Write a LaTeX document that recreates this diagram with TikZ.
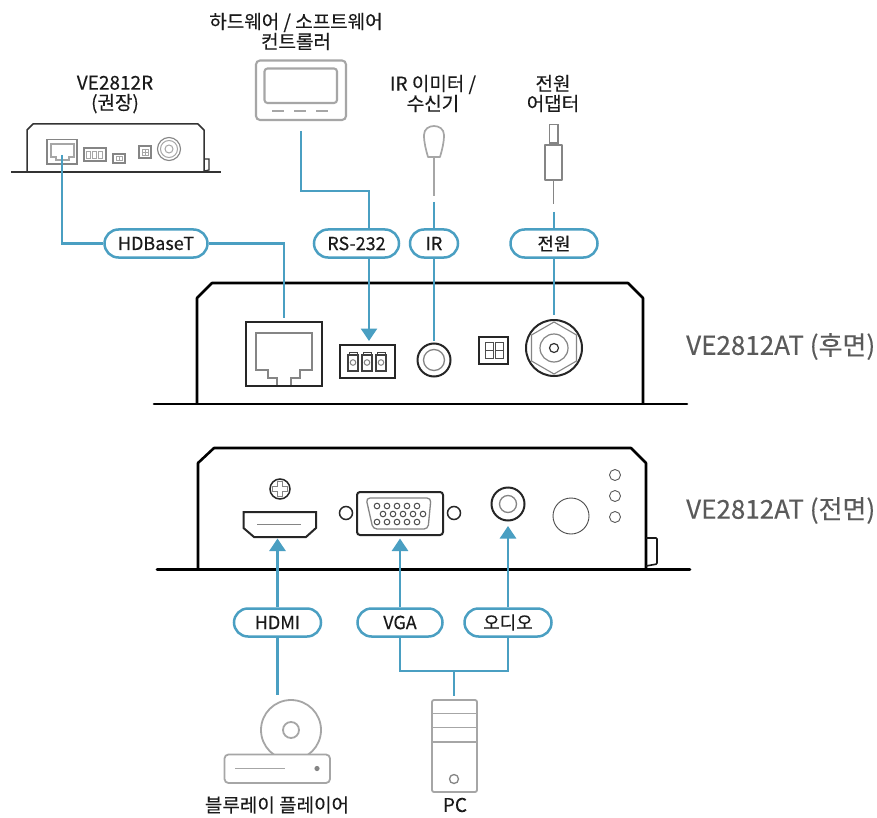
\documentclass[tikz,border=0pt]{standalone}
\usepackage{fontspec}
\setmainfont{Noto Sans CJK KR}[FakeBold=0.25]
\usetikzlibrary{arrows.meta,shapes.misc}
\definecolor{wire}{HTML}{4A9FC2}
\definecolor{pale}{HTML}{A6A6A6}
\definecolor{mid}{HTML}{858585}
\definecolor{ink}{HTML}{1A1A1A}
\definecolor{title}{HTML}{5A5A5A}
\tikzset{
  wireline/.style={draw=wire,line width=2.6pt},
  wirearrow/.style={wireline,-{Triangle[length=12.5pt,width=16pt]}},
  pill/.style={draw=wire,line width=2.5pt,fill=white,rounded rectangle,minimum height=28pt,inner sep=0pt,font=\fontsize{18}{20}\selectfont,text=ink},
  captext/.style={align=center,font=\fontsize{19}{21}\selectfont,text=ink,inner sep=0pt},
  devtitle/.style={font=\fontsize{26}{28}\selectfont,text=title,inner sep=0pt},
  bodyline/.style={draw=black,line width=2.6pt,line join=round},
  part/.style={draw=black!85,line width=2pt},
  grayicon/.style={draw=pale,line width=2.1pt},
  smallpart/.style={draw=mid,line width=1.1pt},
}
\begin{document}
\begin{tikzpicture}[x=1pt,y=-1pt]
\useasboundingbox (0,0) rectangle (877,818);
\fill[white] (0,0) rectangle (877,818);

% ---- captions
\node[captext] (capctl) at (296,31.5) {하드웨어 / 소프트웨어\\[-1pt]컨트롤러};
\node[captext] (capr) at (115,94.5) {VE2812R\\[-1pt](권장)};
\node[captext] (capir) at (433,93.5) {IR 이미터 /\\[-1pt]수신기};
\node[captext] (cappw) at (553,93.5) {전원\\[-1pt]어댑터};
\node[devtitle,anchor=west] (rearT) at (686,346.5) {VE2812AT (후면)};
\node[devtitle,anchor=west] (frontT) at (686,510.5) {VE2812AT (전면)};
\node[captext] (capbd) at (277,805) {블루레이 플레이어};
\node[captext] (cappc) at (455,805) {PC};

% ---- remote unit (small)
\draw[draw=black!80,line width=1.5pt,line join=round] (27,171) -- (27,130) -- (33,124) -- (198,124) -- (204,130) -- (204,171);
\draw[draw=black!80,line width=1.5pt] (11,172) -- (221,172);
\draw[draw=black!80,line width=1.2pt] (204,159) -- (209,159) -- (209,170) -- (204,171);
\draw[smallpart] (47,139.5) rectangle (77,164);
\draw[draw=pale,line width=1.1pt] (51,144) -- (74,144) -- (74,157) -- (69,157) -- (69,160) -- (56,160) -- (56,157) -- (51,157) -- cycle;
\draw[smallpart] (84,148) rectangle (106,161);
\foreach \px in {88,94,100} \draw[draw=pale,line width=.8pt] (\px-2,151) rectangle (\px+2,158);
\draw[smallpart] (113,154) rectangle (125,163);
\draw[draw=pale,line width=.8pt] (116,156.5) rectangle (119,160.5) (119.5,156.5) rectangle (122.5,160.5);
\draw[smallpart] (139,146) rectangle (151,158);
\draw[draw=pale,line width=.8pt] (142,149) rectangle (148,155) (145,149) -- (145,155) (142,152) -- (148,152);
\node[circle,smallpart,minimum size=23pt,inner sep=0pt] (rcoax) at (169,149) {};
\draw[draw=pale,line width=1pt] (169,149) circle (8.5) (169,149) circle (4);
\coordinate (rrj) at (62,155);

% ---- controller
\draw[grayicon,rounded corners=4pt] (256,60.5) rectangle (346,120);
\draw[grayicon,rounded corners=3pt] (264.5,68.5) rectangle (337,103);
\draw[draw=pale,line width=1.6pt] (272,111) -- (284,111) (294,111) -- (306,111) (316,111) -- (328,111);
\coordinate (ctl) at (301,131);

% ---- IR emitter
\draw[draw=pale,line width=1.7pt,line join=round] (428,157) .. controls (426,150) and (424,143) .. (424,135) .. controls (424,129) and (429,126) .. (434,126) .. controls (439,126) and (444,129) .. (444,135) .. controls (444,143) and (442,150) .. (440,157) -- cycle;
\draw[draw=pale,line width=1.7pt] (434,157) -- (434,196);
\coordinate (irtop) at (434,202);

% ---- power plug
\draw[draw=mid,line width=1.7pt] (549.5,124.5) rectangle (558,143);
\draw[draw=mid,line width=1.7pt,line join=round] (545,145) rectangle (562,180);
\draw[draw=mid,line width=1.7pt] (553.5,180) -- (553.5,204);
\coordinate (pwtop) at (554,212);

% ---- rear device
\draw[bodyline] (197,403) -- (197,298) -- (212,283) -- (628,283) -- (643,298) -- (643,403);
\draw[bodyline,line cap=round] (154,404) -- (687,404);
\draw[part] (246,322) rectangle (322,386);
\draw[draw=mid,line width=1.5pt] (277,385) -- (277,378) -- (268,378) -- (268,370) -- (256,370) -- (256,333) -- (312,333) -- (312,370) -- (300,370) -- (300,378) -- (291,378) -- (291,385);
\coordinate (rj) at (284,318);
\draw[part] (340,344.5) rectangle (394.5,378);
\foreach \px in {353,367,381}{
  \draw[draw=black!75,line width=1.1pt] (\px-5,355) rectangle (\px+5,371);
  \draw[draw=black!75,line width=1pt] (\px-4,355) -- (\px-4,352) -- (\px+4,352) -- (\px+4,355);
  \draw[draw=mid,line width=1pt] (\px,362.5) circle (2.8);
}
\coordinate (t3) at (369,341);
\node[circle,part,minimum size=33pt,inner sep=0pt] (irjack) at (434,360) {};
\draw[draw=mid,line width=1.3pt] (434,360) circle (10.5);
\draw[part,line width=1.6pt] (479,337) rectangle (508,364);
\draw[draw=black!70,line width=1pt] (485,342.5) rectangle (493,358) (495,342.5) rectangle (503,358) (485,350) -- (493,350) (495,350) -- (503,350);
\node[circle,part,minimum size=56pt,inner sep=0pt] (coax) at (554,348) {};
\draw[draw=mid,line width=1.1pt] (554,322) -- (576.5,335) -- (576.5,361) -- (554,374) -- (531.5,361) -- (531.5,335) -- cycle;
\draw[draw=mid,line width=1.2pt] (554,348) circle (14);
\draw[draw=black!80,line width=1.2pt] (554,348) circle (4.5);

% ---- front device
\draw[bodyline] (198,569) -- (198,463) -- (214,448) -- (631,448) -- (646,463) -- (646,569);
\draw[bodyline,line cap=round] (157,569.5) -- (690,569.5);
\draw[draw=black!90,line width=1.6pt,rounded corners=1pt] (646,538) -- (657,538) -- (657,564) -- (646,566);
\node[circle,part,line width=1.5pt,minimum size=20pt,inner sep=0pt] (screw) at (280,489) {};
\draw[draw=mid,line width=1.1pt] (277.5,481.5) -- (282.5,481.5) -- (282.5,486.5) -- (287.5,486.5) -- (287.5,491.5) -- (282.5,491.5) -- (282.5,496.5) -- (277.5,496.5) -- (277.5,491.5) -- (272.5,491.5) -- (272.5,486.5) -- (277.5,486.5) -- cycle;
\draw[part,line join=miter] (243.5,512) -- (316,512) -- (316,528) -- (306,537) -- (254,537) -- (243.5,528) -- cycle;
\draw[draw=mid,line width=1.6pt] (257,524.5) -- (301,524.5);
\coordinate (hdmi) at (277.5,538.5);
\draw[part,rounded corners=3pt] (357,492) rectangle (443,535);
\draw[draw=mid,line width=1.3pt,rounded corners=4pt] (366,498) -- (431,498) -- (428,529) -- (373,529) -- cycle;
\foreach \px in {377,387,397,407,417}{
  \draw[draw=black!70,line width=1pt] (\px,506) circle (2.8) (\px,522) circle (2.8);
  \draw[draw=black!70,line width=1pt] (\px+6,514) circle (2.8);
}
\node[circle,part,line width=1.5pt,minimum size=13pt,inner sep=0pt] (ls) at (346,513) {};
\node[circle,part,line width=1.5pt,minimum size=13pt,inner sep=0pt] (rs) at (454,513) {};
\coordinate (vga) at (400,538.5);
\node[circle,part,minimum size=33pt,inner sep=0pt] (audio) at (508,504) {};
\draw[draw=mid,line width=1.3pt] (508,504) circle (8.5);
\coordinate (aud) at (508,526);
\node[circle,draw=black!70,line width=.9pt,minimum size=36pt,inner sep=0pt] (ir) at (571,516) {};
\foreach \py/\pn in {475/a,496/b,517/c}
  \node[circle,draw=black!65,line width=.9pt,minimum size=11pt,inner sep=0pt] (led\pn) at (615,\py) {};

% ---- blu-ray
\draw[grayicon,line width=1.8pt] (291,730) circle (30);
\draw[grayicon,line width=1.8pt] (291,730) circle (8);
\draw[grayicon,line width=1.8pt,fill=white,rounded corners=4pt] (224.5,754.5) rectangle (330,783);
\draw[draw=pale,line width=1.7pt] (235,768.5) -- (285,768.5);
\fill[mid] (317,768.5) circle (2.6);
\coordinate (bd) at (277.5,695);

% ---- PC
\draw[grayicon,line width=1.8pt,rounded corners=2pt] (432,700) rectangle (477,792);
\draw[grayicon,line width=1.8pt] (432,713.5) -- (477,713.5) (432,727.5) -- (477,727.5) (432,742) -- (477,742);
\draw[draw=mid,line width=1.3pt] (454,779) circle (4.5);
\coordinate (pc) at (454,696);
\coordinate (junc) at (454,671);

% ---- pills
\node[pill,minimum width=103pt] (phd) at (156,243.5) {HDBaseT};
\node[pill,minimum width=85pt] (prs) at (356.5,243.5) {RS-232};
\node[pill,minimum width=48pt] (pir) at (434,243.5) {IR};
\node[pill,minimum width=87pt] (ppw) at (554,243.5) {전원};
\node[pill,minimum width=87pt] (phm) at (277.5,622.5) {HDMI};
\node[pill,minimum width=85pt] (pvg) at (400,622.5) {VGA};
\node[pill,minimum width=87pt] (pau) at (508,622.5) {오디오};

% ---- connectors
\draw[wireline] (rrj) |- (phd.west);
\draw[wireline] (phd.east) -| (rj);
\draw[wireline] (ctl) |- (369,191) -- (369,229.5);
\draw[wirearrow] (369,258) -- (t3);
\draw[wireline] (irtop) -- (pir.north);
\coordinate (irend) at (434,341);
\draw[wireline] (pir.south) -- (irend);
\draw[wireline] (pwtop) -- (ppw.north);
\coordinate (coaxtop) at (554,315);
\draw[wireline] (ppw.south) -- (coaxtop);
\draw[wirearrow] (phm.north) -- (hdmi);
\draw[wireline] (phm.south) -- (bd);
\draw[wirearrow] (pvg.north) -- (vga);
\draw[wirearrow] (pau.north) -- (aud);
\draw[wireline] (pvg.south) |- (junc);
\draw[wireline] (pau.south) |- (junc);
\draw[wireline] (junc) -- (pc);
\end{tikzpicture}
\end{document}
